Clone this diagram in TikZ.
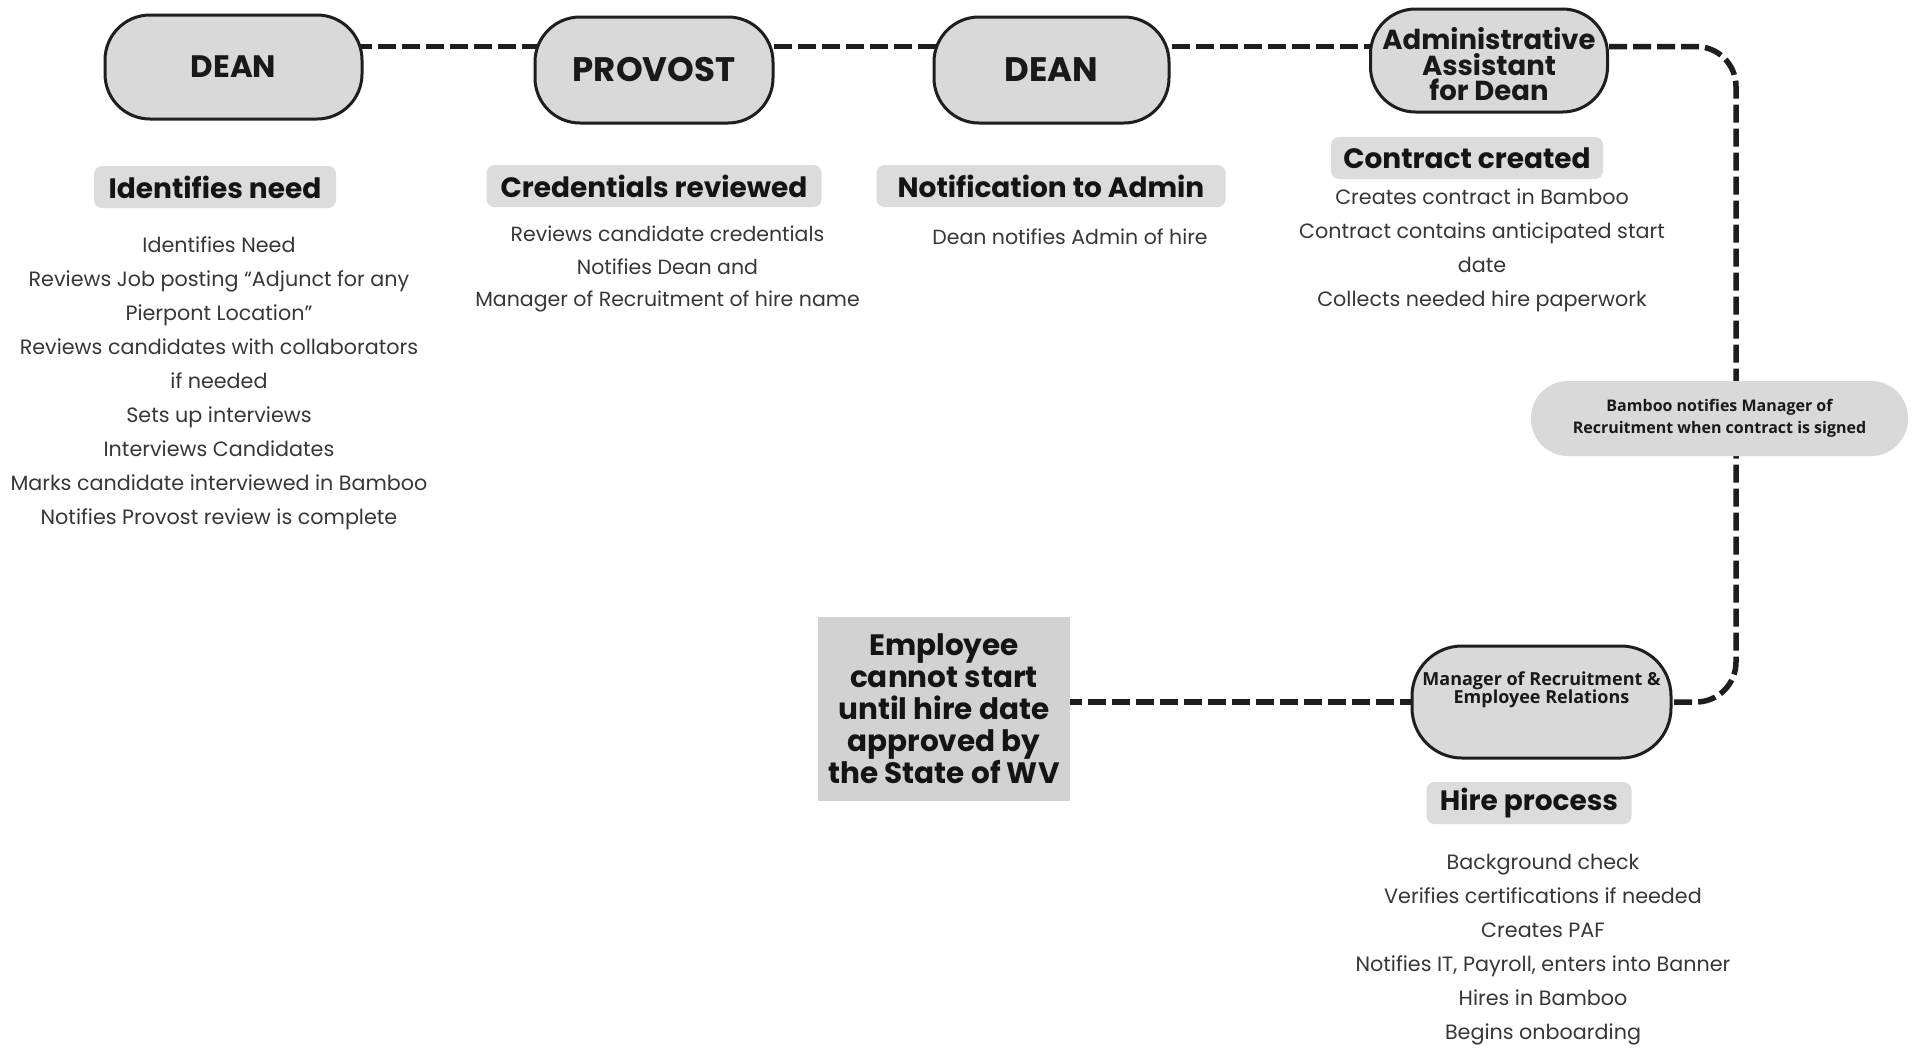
\documentclass[tikz,border=0pt]{standalone}
\usepackage{fontspec}
\setmainfont{Poppins}
\newfontfamily\osans{Open Sans}
\usetikzlibrary{backgrounds}
\definecolor{pillgray}{RGB}{217,217,217}
\definecolor{hdrgray}{RGB}{220,220,220}
\definecolor{empgray}{RGB}{210,210,210}
\definecolor{bodygray}{RGB}{55,55,55}
\definecolor{edge}{RGB}{30,30,30}
\tikzset{
  pill/.style={draw=edge, line width=3pt, fill=pillgray, rounded corners=45pt, align=center, inner sep=0pt, text=black!90},
  hdr/.style={fill=hdrgray, rounded corners=8pt, minimum height=42pt, inner sep=0pt, text=black!92, font=\bfseries\fontsize{28}{30}\selectfont},
  body/.style={align=center, text=bodygray, inner sep=0pt, font=\fontsize{20.7}{34}\selectfont},
  dashline/.style={line width=5.5pt, dash pattern=on 18pt off 6pt, draw=edge},
}
\begin{document}
\begin{tikzpicture}[x=1pt,y=1pt]
\useasboundingbox (0,0) rectangle (1917,-1047);

% top row pills
\node[pill, minimum width=257pt, minimum height=104pt, font=\bfseries\fontsize{31}{33}\selectfont] (dean1) at (233.5,-67) {DEAN};
\node[pill, minimum width=238pt, minimum height=106pt, font=\bfseries\fontsize{34}{36}\selectfont] (prov) at (654,-70) {PROVOST};
\node[pill, minimum width=235pt, minimum height=106pt, font=\bfseries\fontsize{34}{36}\selectfont] (dean2) at (1051.5,-70) {DEAN};
\node[pill, minimum width=237pt, minimum height=103pt,
  label={[font=\bfseries\fontsize{27.5}{25.5}\selectfont, align=center, text=black!90, yshift=-4pt]center:Administrative\\Assistant\\for Dean}] (admin) at (1489,-60.5) {};

% side pill
\node[fill=pillgray, rounded corners=37pt, minimum width=377pt, minimum height=75pt, inner sep=0pt, align=center, text=black!90, font=\osans\bfseries\fontsize{16}{22}\selectfont] (bamboo) at (1719.5,-418.5) {Bamboo notifies Manager of\\Recruitment when contract is signed};

% manager pill
\node[pill, rounded corners=50pt, minimum width=259pt, minimum height=112pt,
  label={[font=\osans\bfseries\fontsize{18}{18}\selectfont, align=center, text=black!90, yshift=12pt]center:Manager of Recruitment \&\\Employee Relations}] (mgr) at (1541.5,-702) {};

% employee box
\node[fill=empgray, minimum width=252pt, minimum height=184pt, inner sep=0pt, align=center, text=black!92, font=\bfseries\fontsize{29.5}{32}\selectfont] (emp) at (944,-709) {Employee\\cannot start\\until hire date\\approved by\\the State of WV};

% connectors
\begin{scope}[on background layer]
\fill[white] (0,0) rectangle (1917,-1047);
\draw[dashline] (dean1.center |- 0,-46.5) -- (prov.center |- 0,-46.5);
\draw[dashline] (prov.center |- 0,-46.5) -- (dean2.center |- 0,-46.5);
\draw[dashline] (dean2.center |- 0,-46.5) -- (admin.center |- 0,-46.5);
\draw[dashline, rounded corners=40pt] (admin.center |- 0,-46.5) -- (1736,-46.5) -- (1736,-702) -- (mgr.center);
\draw[dashline] (emp.center |- 0,-702) -- (mgr.center);
\end{scope}

% headers
\node[hdr, minimum width=242pt] (h1) at (215,-187) {Identifies need};
\node[hdr, minimum width=335pt] (h2) at (654,-186) {Credentials reviewed};
\node[hdr, minimum width=349pt] (h3) at (1051,-186) {Notification to Admin};
\node[hdr, minimum width=272pt] (h4) at (1467,-158) {Contract created};
\node[hdr, minimum width=205pt] (h5) at (1529,-803) {Hire process};

% body texts
\node[body] (b1) at (219,-383.5) {Identifies Need\\Reviews Job posting “Adjunct for any\\Pierpont Location”\\Reviews candidates with collaborators\\if needed\\Sets up interviews\\Interviews Candidates\\Marks candidate interviewed in Bamboo\\Notifies Provost review is complete};
\node[body, font=\fontsize{20.5}{32.4}\selectfont] (b2) at (667.5,-269) {Reviews candidate credentials\\Notifies Dean and\\Manager of Recruitment of hire name};
\node[body, font=\fontsize{20.5}{32.4}\selectfont] (b3) at (1070,-236.5) {Dean notifies Admin of hire};
\node[body] (b4) at (1482,-250.5) {Creates contract in Bamboo\\Contract contains anticipated start\\date\\Collects needed hire paperwork};
\node[body] (b5) at (1543,-950) {Background check\\Verifies certifications if needed\\Creates PAF\\Notifies IT, Payroll, enters into Banner\\Hires in Bamboo\\Begins onboarding};
\end{tikzpicture}
\end{document}
